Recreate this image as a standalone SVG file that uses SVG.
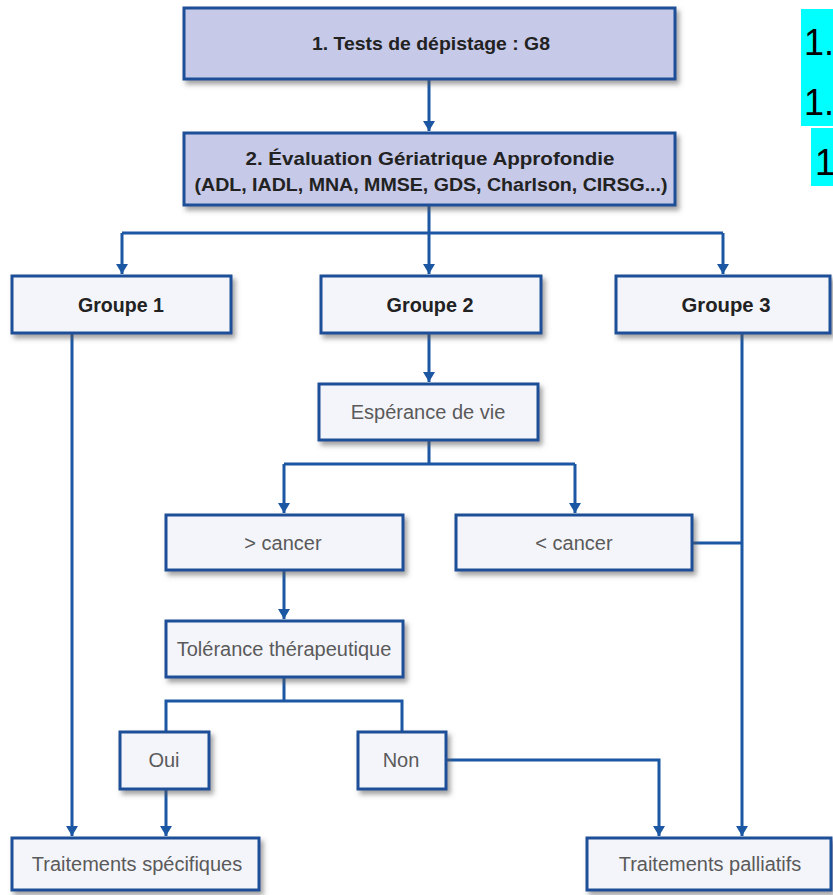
<svg xmlns="http://www.w3.org/2000/svg" width="833" height="895" viewBox="0 0 833 895">
<defs>
<filter id="sh" x="-10%" y="-20%" width="130%" height="160%">
<feDropShadow dx="3" dy="4" stdDeviation="2.5" flood-color="#555" flood-opacity="0.55"/>
</filter>
<marker id="ah" viewBox="0 0 10 16" refX="10" refY="8" markerWidth="10" markerHeight="16" markerUnits="userSpaceOnUse" orient="auto">
<path d="M0,2 L10,8 L0,14 z" fill="#1b57a3"/>
</marker>
</defs>
<style>
.box{stroke:#1f4f97;stroke-width:3;filter:url(#sh)}
.hd{fill:#c6c9e7}
.lt{fill:#f4f5fa}
.tb{font-family:"Liberation Sans",Arial,sans-serif;font-weight:bold;font-size:19px;fill:#222;text-anchor:middle}
.tg{font-family:"Liberation Sans",Arial,sans-serif;font-weight:bold;font-size:20px;fill:#222;text-anchor:middle}
.tn{font-family:"Liberation Sans",Arial,sans-serif;font-size:20px;fill:#5a5a5a;text-anchor:middle}
.c{fill:none;stroke:#1b57a3;stroke-width:3}
.hl{font-family:"Liberation Sans",Arial,sans-serif;font-size:36px;fill:#000}
</style>
<rect width="833" height="895" fill="#ffffff"/>
<g id="highlight">
<rect x="801" y="9" width="32" height="117" fill="#00ffff"/>
<rect x="811" y="128" width="22" height="58" fill="#00ffff"/>
<text class="hl" x="804" y="55">1.</text>
<text class="hl" x="804" y="115">1.</text>
<text class="hl" x="815" y="175">1</text>
</g>
<g id="connectors">
<path class="c" d="M429,79 V131" marker-end="url(#ah)"/>
<path class="c" d="M429,205 V233 M122,233 H723"/>
<path class="c" d="M122,233 V274" marker-end="url(#ah)"/>
<path class="c" d="M429,233 V274" marker-end="url(#ah)"/>
<path class="c" d="M723,233 V274" marker-end="url(#ah)"/>
<path class="c" d="M72,333 V836" marker-end="url(#ah)"/>
<path class="c" d="M429,333 V382" marker-end="url(#ah)"/>
<path class="c" d="M429,440 V464 M284,464 H575"/>
<path class="c" d="M284,464 V513" marker-end="url(#ah)"/>
<path class="c" d="M575,464 V513" marker-end="url(#ah)"/>
<path class="c" d="M284,570 V619" marker-end="url(#ah)"/>
<path class="c" d="M284,677 V701 M166,732 V701 H402 V732"/>
<path class="c" d="M166,789 V836" marker-end="url(#ah)"/>
<path class="c" d="M446,760 H659 V836" marker-end="url(#ah)"/>
<path class="c" d="M742,333 V836" marker-end="url(#ah)"/>
<path class="c" d="M692,543 H742"/>
</g>
<g id="n1"><rect class="box hd" x="184" y="8" width="491" height="71"/><text class="tb" x="431" y="50" textLength="238" lengthAdjust="spacingAndGlyphs">1. Tests de dépistage : G8</text></g>
<g id="n2"><rect class="box hd" x="184" y="133" width="491" height="72"/><text class="tb" x="430" y="165" textLength="369" lengthAdjust="spacingAndGlyphs">2. Évaluation Gériatrique Approfondie</text><text class="tb" x="431" y="191" textLength="473" lengthAdjust="spacingAndGlyphs">(ADL, IADL, MNA, MMSE, GDS, Charlson, CIRSG...)</text></g>
<g id="g1"><rect class="box lt" x="12" y="276" width="219" height="57"/><text class="tg" x="121" y="312" textLength="86" lengthAdjust="spacingAndGlyphs">Groupe 1</text></g>
<g id="g2"><rect class="box lt" x="321" y="276" width="220" height="57"/><text class="tg" x="430" y="312" textLength="87" lengthAdjust="spacingAndGlyphs">Groupe 2</text></g>
<g id="g3"><rect class="box lt" x="616" y="276" width="214" height="57"/><text class="tg" x="726" y="312" textLength="89" lengthAdjust="spacingAndGlyphs">Groupe 3</text></g>
<g id="esp"><rect class="box lt" x="319" y="384" width="219" height="56"/><text class="tn" x="428" y="419">Espérance de vie</text></g>
<g id="gt"><rect class="box lt" x="166" y="515" width="237" height="55"/><text class="tn" x="283" y="550">&gt; cancer</text></g>
<g id="lt"><rect class="box lt" x="456" y="515" width="236" height="55"/><text class="tn" x="574" y="550">&lt; cancer</text></g>
<g id="tol"><rect class="box lt" x="166" y="621" width="237" height="56"/><text class="tn" x="284" y="656">Tolérance thérapeutique</text></g>
<g id="oui"><rect class="box lt" x="120" y="732" width="89" height="57"/><text class="tn" x="164" y="767">Oui</text></g>
<g id="non"><rect class="box lt" x="358" y="732" width="88" height="57"/><text class="tn" x="401" y="767">Non</text></g>
<g id="ts"><rect class="box lt" x="12" y="838" width="247" height="52"/><text class="tn" x="137" y="871">Traitements spécifiques</text></g>
<g id="tp"><rect class="box lt" x="587" y="838" width="244" height="52"/><text class="tn" x="710" y="871">Traitements palliatifs</text></g>
</svg>
